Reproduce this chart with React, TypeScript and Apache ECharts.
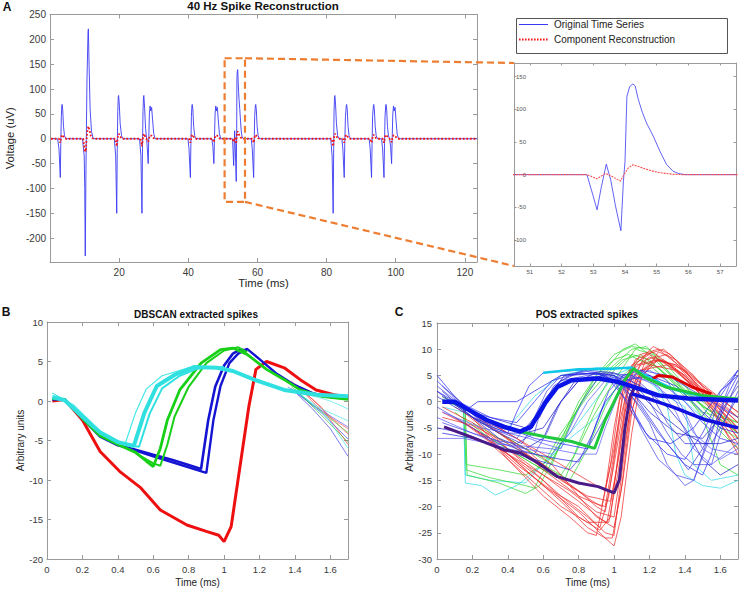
import React, { useEffect, useRef } from "react";
import * as echarts from "echarts";

type P = [number, number];

// ---------- Panel A : 40 Hz spike reconstruction ----------
const aOriginal: P[] = [
  [0.3, 0], [2.2, 0], [2.6, -20], [2.98, -78], [3.12, -10], [3.28, 45], [3.42, 67], [3.52, 69], [3.68, 58], [3.9, 25], [4.2, 6], [4.6, 0],
  [9.4, 0], [9.9, -35], [10.05, -100], [10.2, -236], [10.4, -60], [10.7, 120], [11.0, 215], [11.1, 221], [11.3, 150], [11.6, 60], [12.0, 15], [12.5, 0],
  [18.6, 0], [19.0, -35], [19.3, -150], [19.45, -20], [19.6, 55], [19.75, 85], [19.85, 87], [20.05, 68], [20.3, 30], [20.7, 6], [21.1, 0],
  [25.9, 0], [26.3, -35], [26.6, -150], [26.75, -20], [26.9, 55], [27.05, 85], [27.15, 87], [27.38, 60], [27.65, 20], [27.95, 0], [28.15, -20], [28.4, -50], [28.55, -5], [28.75, 50], [28.95, 66], [29.15, 56], [29.4, 63], [29.65, 40], [30.0, 10], [30.4, 0],
  [39.9, 0], [40.2, -20], [40.6, -78], [40.75, -10], [40.9, 45], [41.05, 67], [41.15, 69], [41.32, 58], [41.55, 25], [41.85, 6], [42.2, 0],
  [46.8, 0], [47.1, -15], [47.4, -50], [47.55, -5], [47.75, 50], [47.95, 66], [48.15, 56], [48.4, 63], [48.65, 40], [49.0, 10], [49.4, 0],
  [52.8, 0], [52.95, -25], [53.12, -54], [53.25, -20], [53.41, 16], [53.55, -8], [53.7, -48], [53.87, -86], [53.95, -10], [54.0, 20], [54.06, 120], [54.15, 135], [54.25, 139], [54.32, 136], [54.42, 115], [54.55, 95], [54.68, 79], [54.89, 59], [55.1, 36], [55.31, 15.5], [55.52, 5], [55.7, 1.5], [55.9, 0],
  [58.2, 0], [58.5, -20], [58.9, -78], [59.05, -10], [59.2, 45], [59.4, 67], [59.5, 69], [59.68, 58], [59.9, 25], [60.2, 6], [60.6, 0],
  [81.2, 0], [81.6, -35], [81.9, -150], [82.05, -20], [82.15, 55], [82.3, 85], [82.4, 87], [82.6, 68], [82.85, 30], [83.2, 6], [83.6, 0],
  [84.4, 0], [84.7, -20], [85.1, -78], [85.25, -10], [85.45, 45], [85.7, 67], [85.8, 69], [85.98, 58], [86.2, 25], [86.5, 6], [86.9, 0],
  [92.3, 0], [92.6, -20], [93.0, -78], [93.15, -10], [93.3, 45], [93.55, 67], [93.65, 69], [93.82, 58], [94.05, 25], [94.35, 6], [94.7, 0],
  [95.9, 0], [96.2, -20], [96.6, -78], [96.75, -10], [96.9, 45], [97.1, 67], [97.2, 69], [97.38, 58], [97.6, 25], [97.9, 6], [98.2, 0],
  [98.5, -15], [98.8, -50], [98.95, -5], [99.15, 50], [99.35, 66], [99.55, 56], [99.8, 63], [100.05, 40], [100.4, 10], [100.8, 0], [123.5, 0],
];

const aReconstruction: P[] = [
  [0.3, 0], [2.6, 0], [2.8, -5], [2.98, -8], [3.15, -1], [3.3, 5], [3.5, 8], [3.8, 5], [4.2, 1], [4.6, 0],
  [9.6, 0], [9.9, -15], [10.05, -25], [10.2, -22], [10.35, -26], [10.55, -5], [10.8, 15], [11.1, 25], [11.4, 18], [11.8, 6], [12.3, 1], [12.8, 0],
  [18.9, 0], [19.1, -8], [19.3, -15], [19.5, -3], [19.65, 5], [19.9, 10], [20.2, 6], [20.6, 1], [21.0, 0],
  [26.2, 0], [26.4, -8], [26.6, -15], [26.8, -3], [26.95, 5], [27.2, 10], [27.5, 5], [27.8, 1], [28.1, -2], [28.4, -6], [28.6, 0], [28.8, 4], [29.0, 7], [29.4, 6], [29.8, 2], [30.3, 0],
  [40.2, 0], [40.4, -4], [40.6, -8], [40.8, -1], [40.95, 5], [41.15, 8], [41.45, 5], [41.85, 1], [42.2, 0],
  [47.1, 0], [47.25, -4], [47.4, -7], [47.6, 0], [47.8, 5], [48.0, 7], [48.4, 6], [48.8, 2], [49.2, 0],
  [52.8, 0], [53.12, -6.5], [53.38, 2], [53.6, -3], [53.85, -10], [53.97, 0], [54.1, 10], [54.25, 15], [54.45, 12], [54.68, 8], [54.9, 5], [55.1, 3], [55.5, 0.5], [55.8, 0],
  [58.5, 0], [58.7, -4], [58.9, -8], [59.1, -1], [59.25, 5], [59.5, 8], [59.8, 5], [60.2, 1], [60.6, 0],
  [81.5, 0], [81.7, -8], [81.9, -15], [82.1, -3], [82.2, 5], [82.45, 10], [82.75, 6], [83.2, 1], [83.6, 0],
  [84.7, 0], [84.9, -4], [85.1, -8], [85.3, -1], [85.45, 5], [85.75, 8], [86.0, 5], [86.4, 1], [86.8, 0],
  [92.6, 0], [92.8, -4], [93.0, -8], [93.2, -1], [93.35, 5], [93.6, 8], [93.9, 5], [94.3, 1], [94.7, 0],
  [96.2, 0], [96.4, -4], [96.6, -8], [96.8, -1], [96.95, 5], [97.2, 8], [97.5, 5], [97.9, 1], [98.2, 0],
  [98.6, -3], [98.8, -7], [99.0, 0], [99.2, 5], [99.4, 7], [99.8, 6], [100.2, 2], [100.6, 0], [123.5, 0],
];

const legendLabels = ["Original Time Series", "Component Reconstruction"];

// zoom window drawn on panel A (time ms, voltage uV)
const zoomBox: P[] = [[50.5, 162], [56.4, 162], [56.4, -127], [50.5, -127], [50.5, 162]];
const insetRange = { xMin: 50.5, xMax: 57.5, yMin: -140, yMax: 171 };

// ---------- Panel B : DBSCAN extracted spikes ----------
const bRed: P[] = [[0.03, 0], [0.1, 0.2], [0.2, -2.4], [0.3, -6.4], [0.41, -8.9], [0.53, -11], [0.64, -13.8], [0.79, -15.7], [0.9, -16.5], [0.97, -17], [1.0, -17.8], [1.04, -15.9], [1.09, -8.3], [1.14, -0.7], [1.18, 4], [1.24, 5.0], [1.34, 4.2], [1.43, 2.7], [1.52, 1.4], [1.62, 0.8], [1.7, 0.5]];
const bBlueA: P[] = [[0.03, 0.2], [0.1, 0.2], [0.2, -2.2], [0.3, -4.5], [0.4, -5.6], [0.49, -6.1], [0.6, -6.8], [0.7, -7.4], [0.8, -8.1], [0.87, -8.6], [0.91, -2.5], [0.95, 1.8], [1.0, 4.5], [1.05, 6.0], [1.09, 6.5], [1.13, 6.4]];
const bBlueB: P[] = [[0.45, -5.9], [0.6, -7.0], [0.7, -7.7], [0.8, -8.4], [0.9, -9.1], [0.94, -2.4], [0.98, 1.9], [1.03, 4.8], [1.08, 6.0], [1.13, 6.6], [1.2, 5.3], [1.3, 3.4], [1.4, 2.0], [1.5, 1.0], [1.6, 0.5], [1.7, 0.3]];
const bGreenA: P[] = [[0.03, 0.3], [0.1, 0.2], [0.2, -2.2], [0.3, -4.4], [0.4, -5.5], [0.5, -6.5], [0.56, -7.6], [0.6, -8.3], [0.64, -6], [0.68, -2.4], [0.75, 1.4], [0.87, 4.8], [0.98, 6.5], [1.05, 6.7], [1.13, 5.9], [1.24, 4.0], [1.34, 2.7], [1.43, 1.4], [1.55, 0.6], [1.7, 0.2]];
const bGreenB: P[] = [[0.5, -6.6], [0.6, -7.9], [0.64, -8.2], [0.68, -5.5], [0.72, -2], [0.8, 1.8], [0.9, 4.8], [1.0, 6.4], [1.08, 6.8], [1.13, 6.2]];
const bCyanA: P[] = [[0.03, 0.5], [0.1, 0.1], [0.2, -2.0], [0.3, -4.0], [0.4, -5.2], [0.49, -5.7], [0.55, -1.5], [0.62, 1.9], [0.72, 3.3], [0.83, 4.3], [0.96, 4.2], [1.05, 3.8], [1.17, 2.7], [1.34, 1.4], [1.52, 0.8], [1.7, 0.6]];
const bCyanB: P[] = [[0.03, 1], [0.15, -0.5], [0.3, -3.8], [0.44, -5.5], [0.5, -1.5], [0.56, 1.5], [0.65, 3.2], [0.8, 4.2], [0.95, 4.3]];
const bCyanC: P[] = [[0.45, -5.6], [0.52, -5.8], [0.58, -1.6], [0.65, 1.6], [0.75, 3.2], [0.85, 4.1], [1.0, 4.3]];
const bTails: { color: string; pts: P[] }[] = [
  { color: "#ff2020", pts: [[1.38, 2.5], [1.5, 0.2], [1.6, -2], [1.7, -4.2]] },
  { color: "#ff2020", pts: [[1.4, 2.2], [1.55, -0.8], [1.7, -5.5]] },
  { color: "#ff4040", pts: [[1.42, 1.8], [1.56, -1.5], [1.7, -3.5]] },
  { color: "#2020e0", pts: [[1.38, 1.6], [1.5, -1], [1.6, -3.5], [1.7, -7]] },
  { color: "#3030f0", pts: [[1.4, 1.3], [1.55, -1.5], [1.7, -4.8]] },
  { color: "#4040ff", pts: [[1.36, 1.8], [1.5, -0.5], [1.7, -3.3]] },
  { color: "#20c020", pts: [[1.4, 1.5], [1.55, -1.8], [1.7, -5.2]] },
  { color: "#30d030", pts: [[1.38, 1.8], [1.52, -0.8], [1.7, -4]] },
  { color: "#30e0e0", pts: [[1.4, 1.2], [1.55, -1], [1.7, -2.5]] },
  { color: "#30e0e0", pts: [[1.42, 1.1], [1.58, -2], [1.7, -6]] },
  { color: "#30e0e0", pts: [[1.45, 1.0], [1.6, 0], [1.7, -1]] },
];

// ---------- Panel C : POS extracted spikes ----------
const cRedThin: P[][] = [
  [[0.03, -1], [0.2, -4], [0.4, -9], [0.6, -14], [0.8, -19], [0.95, -23], [1.0, -24], [1.05, -15], [1.1, -2], [1.16, 6], [1.25, 8], [1.35, 7], [1.5, 2], [1.7, -4]],
  [[0.03, -2], [0.2, -5], [0.4, -10], [0.6, -16], [0.8, -21], [0.95, -26], [1.0, -27.5], [1.04, -22], [1.1, -6], [1.15, 4], [1.25, 9.5], [1.35, 8], [1.5, 3], [1.7, -3]],
  [[0.03, -3], [0.2, -4.5], [0.4, -8], [0.6, -12], [0.8, -17], [0.9, -20], [0.95, -21], [1.0, -12], [1.06, 0], [1.12, 7], [1.22, 10.5], [1.32, 9], [1.45, 4], [1.7, -5]],
  [[0.15, -2], [0.3, -6], [0.5, -12], [0.7, -18], [0.85, -22], [0.92, -24], [0.97, -18], [1.03, -4], [1.1, 6], [1.2, 8.5], [1.3, 7.5], [1.5, 1], [1.7, -6]],
  [[0.1, -1], [0.3, -5], [0.5, -9], [0.7, -15], [0.85, -18], [0.98, -19], [1.03, -10], [1.08, 2], [1.15, 7], [1.28, 8], [1.4, 5], [1.55, 0], [1.7, -7]],
  [[0.2, -3], [0.4, -11], [0.6, -18], [0.75, -22], [0.85, -25], [0.9, -25.5], [0.95, -17], [1.0, -5], [1.05, 4], [1.15, 9], [1.25, 10], [1.4, 6], [1.7, -2]],
  [[0.15, -4], [0.35, -9], [0.55, -13], [0.75, -17], [0.9, -21], [1.0, -22], [1.06, -8], [1.12, 4], [1.2, 7], [1.35, 6], [1.5, 1], [1.7, -8]],
  [[0.25, -6], [0.45, -12], [0.65, -17], [0.8, -20], [0.95, -25], [1.0, -25.5], [1.05, -12], [1.1, 1], [1.18, 8], [1.3, 9], [1.45, 4], [1.7, -4]],
  [[0.2, -2], [0.4, -7], [0.6, -13], [0.8, -18], [0.9, -19.5], [0.95, -20], [1.0, -10], [1.05, 2], [1.12, 8], [1.22, 9.5], [1.35, 6], [1.55, 0], [1.7, -5]],
  [[0.3, -8], [0.5, -14], [0.7, -20], [0.85, -23], [0.97, -23], [1.02, -14], [1.08, -1], [1.15, 6], [1.3, 7], [1.45, 3], [1.7, -9]],
  [[0.15, -1], [0.35, -6], [0.55, -11], [0.75, -16], [0.88, -19], [0.93, -20], [0.98, -12], [1.03, 0], [1.1, 7], [1.2, 9], [1.32, 7], [1.5, 2], [1.7, -3]],
  [[0.2, -5], [0.4, -10], [0.6, -15], [0.8, -22], [0.92, -24.5], [0.98, -22], [1.03, -8], [1.08, 3], [1.18, 9], [1.28, 10], [1.45, 5], [1.7, -6]],
  [[0.1, -3], [0.3, -7], [0.5, -13], [0.7, -19], [0.85, -24], [0.95, -26], [0.99, -26], [1.04, -17], [1.09, -3], [1.16, 5], [1.25, 8], [1.4, 6], [1.7, -7]],
  [[0.3, -4], [0.5, -8], [0.7, -12], [0.85, -15], [0.95, -17], [1.0, -9], [1.05, 1], [1.12, 7], [1.25, 8], [1.4, 5], [1.55, -1], [1.7, -10]],
  [[0.25, -3], [0.45, -7], [0.65, -12], [0.8, -18], [0.9, -22], [0.96, -23], [1.01, -14], [1.06, -2], [1.13, 5], [1.22, 8], [1.35, 7], [1.5, 3], [1.7, -2]],
];
const cGreenThin: P[][] = [
  [[0.03, 1], [0.15, -1], [0.165, -13], [0.3, -14.5], [0.5, -16], [0.55, -16.5], [0.65, -10], [0.75, -4], [0.85, 2], [0.95, 6], [1.05, 10], [1.12, 11], [1.2, 9], [1.35, 4], [1.5, -1], [1.7, -4]],
  [[0.03, 0.5], [0.16, -1.5], [0.17, -14], [0.35, -15.5], [0.5, -17.5], [0.58, -16], [0.7, -8], [0.8, -1], [0.9, 5], [1.0, 9], [1.1, 10.5], [1.2, 10], [1.3, 6], [1.5, 0], [1.7, -5]],
  [[0.1, -2], [0.3, -7], [0.5, -11], [0.65, -14], [0.72, -15], [0.8, -8], [0.9, 0], [1.0, 6], [1.1, 9], [1.2, 8], [1.35, 3], [1.55, -2], [1.7, -6]],
  [[0.2, -4], [0.4, -8], [0.6, -12], [0.75, -15], [0.85, -9], [0.95, -1], [1.05, 5], [1.15, 8], [1.25, 6.5], [1.4, 2], [1.7, -6]],
  [[0.3, -5], [0.5, -9], [0.65, -12], [0.72, -6], [0.8, 0], [0.9, 5], [1.0, 8], [1.08, 9], [1.2, 7], [1.4, 1], [1.7, -9]],
  [[0.25, -6], [0.45, -10], [0.6, -13], [0.7, -14], [0.78, -10], [0.88, -3], [1.0, 4], [1.12, 10], [1.22, 9], [1.35, 4], [1.5, -3], [1.6, -12], [1.7, -14]],
  [[0.2, -3], [0.4, -7], [0.55, -10], [0.65, -11], [0.72, -7], [0.8, -1], [0.9, 4], [1.0, 7], [1.1, 10], [1.18, 10.5], [1.3, 7], [1.45, 1], [1.6, -5], [1.7, -7]],
  [[0.03, 0], [0.16, -1], [0.165, -12], [0.35, -13], [0.5, -14], [0.6, -12], [0.7, -6], [0.85, 1], [0.95, 5], [1.05, 8], [1.15, 9], [1.3, 5], [1.5, -2], [1.7, -4]],
];
const cCyanThin: P[][] = [
  [[0.03, 0], [0.15, -1], [0.16, -15.5], [0.25, -16], [0.33, -17.8], [0.45, -16], [0.6, -12], [0.75, -7], [0.9, -3], [1.0, 2], [1.1, 6], [1.2, 5], [1.3, -1], [1.35, -10], [1.4, -14], [1.5, -16], [1.6, -16.5], [1.7, -15]],
  [[0.03, -1], [0.15, -2], [0.16, -14], [0.3, -15], [0.5, -15.5], [0.65, -10], [0.8, -4], [1.0, 5], [1.1, 6.5], [1.3, 3], [1.5, -3], [1.7, -5]],
  [[0.4, -5], [0.55, 1], [0.7, 5], [0.9, 6.5], [1.05, 6.5], [1.15, 5], [1.3, 1], [1.4, -1], [1.45, -12], [1.55, -15], [1.7, -14]],
];
const cBlueThin: P[][] = [
  [[0.0, 5], [0.1, 1], [0.25, -4], [0.4, -6], [0.45, -2], [0.52, 3], [0.6, 5.5], [0.8, 6], [1.0, 5], [1.1, 2], [1.2, -3], [1.3, -8], [1.4, -12], [1.5, -14], [1.55, -10], [1.62, 0], [1.7, 5]],
  [[0.0, 3], [0.15, -1], [0.3, -5], [0.45, -7], [0.55, -3], [0.62, 2], [0.7, 5], [0.9, 5.5], [1.05, 3], [1.15, -5], [1.25, -11], [1.35, -14], [1.45, -15], [1.52, -8], [1.6, 2], [1.7, 6]],
  [[0.0, 2], [0.2, -3], [0.35, -7], [0.5, -9], [0.6, -7], [0.68, -1], [0.78, 4], [0.95, 5], [1.1, 2], [1.2, -2], [1.35, -6], [1.5, -7], [1.6, -3], [1.7, 4]],
  [[0.0, -3], [0.2, -6], [0.35, -8], [0.5, -9], [0.65, -10], [0.75, -6], [0.85, 0], [0.95, 4], [1.1, 5], [1.25, 3], [1.35, -2], [1.45, -9], [1.55, -12], [1.7, -8]],
  [[0.0, -5], [0.15, -6], [0.3, -8], [0.45, -10], [0.55, -11], [0.65, -12], [0.75, -13], [0.85, -9], [0.95, -3], [1.05, 3], [1.15, 6], [1.3, 5], [1.45, 2], [1.6, -1], [1.7, -3]],
  [[0.15, -2], [0.23, 0], [0.45, 0], [0.55, 2], [0.7, 5], [0.9, 5.5], [1.0, 4], [1.1, -2], [1.2, -7], [1.32, -8], [1.45, -5], [1.6, 2], [1.7, 5]],
  [[0.0, 2], [0.2, -2], [0.4, -5], [0.55, -7], [0.7, -8], [0.85, -9], [0.9, -4], [0.97, 2], [1.05, 5], [1.15, 6], [1.25, 4], [1.4, 0], [1.5, -4], [1.6, -7], [1.7, -8]],
  [[0.03, -4], [0.2, -6], [0.35, -7.5], [0.45, -8], [0.55, -6], [0.6, 0], [0.7, 4], [0.85, 5], [1.0, 4], [1.1, 1], [1.2, -4], [1.3, -12], [1.4, -16], [1.45, -15], [1.55, -6], [1.65, 3], [1.7, 6]],
  [[0.03, 3], [0.2, -2], [0.4, -4], [0.5, -5], [0.58, -3], [0.65, 2], [0.72, 5], [0.85, 6], [1.0, 5.5], [1.15, 3], [1.3, -1], [1.4, -5], [1.5, -11], [1.6, -14], [1.7, -12]],
  [[0.03, -2], [0.25, -5], [0.4, -6], [0.52, -7], [0.6, -8], [0.7, -9], [0.75, -5], [0.82, 0], [0.9, 4], [1.05, 5], [1.2, 4], [1.35, 0], [1.45, -6], [1.55, -9], [1.7, -10]],
  [[0.0, 1], [0.2, -3], [0.35, -6], [0.48, -8], [0.55, -4], [0.62, 1], [0.7, 4], [0.8, 5.5], [1.0, 5], [1.15, -1], [1.25, -6], [1.35, -10], [1.42, -13], [1.5, -9], [1.6, -2], [1.7, 3]],
  [[0.03, -6], [0.2, -7], [0.4, -9], [0.55, -10], [0.7, -11], [0.8, -11.5], [0.88, -6], [0.95, 0], [1.05, 4], [1.2, 5], [1.35, 3], [1.5, -2], [1.6, -5], [1.7, -6]],
  [[0.0, 4], [0.12, 0], [0.3, -3], [0.45, -4], [0.55, 0], [0.65, 4], [0.8, 5.5], [0.95, 5], [1.08, 0], [1.18, -6], [1.3, -10], [1.4, -11], [1.5, -6], [1.6, 1], [1.7, 6]],
  [[0.0, -1], [0.15, -4], [0.3, -7], [0.45, -9], [0.55, -10], [0.62, -6], [0.7, 0], [0.8, 4], [0.95, 5], [1.1, 4], [1.2, 0], [1.3, -6], [1.38, -10], [1.45, -12], [1.55, -12], [1.62, -4], [1.7, 2]],
  [[0.03, 2], [0.2, -3], [0.35, -5], [0.5, -6], [0.6, -5], [0.7, 0], [0.8, 4], [0.9, 5.5], [1.0, 5], [1.1, 3], [1.25, -2], [1.4, -6], [1.5, -8], [1.6, -8], [1.7, -7]],
  [[0.0, -7], [0.15, -7], [0.3, -8], [0.5, -8.5], [0.65, -9], [0.8, -10], [0.9, -10], [0.95, -5], [1.02, 1], [1.1, 5], [1.2, 6], [1.3, 4], [1.4, -2], [1.5, -9], [1.6, -11], [1.7, -9]],
  [[0.03, 1], [0.25, -4], [0.4, -6], [0.5, -6], [0.58, -2], [0.66, 3], [0.75, 5], [0.95, 5.5], [1.1, 5], [1.2, 2], [1.3, -4], [1.4, -8], [1.55, -8], [1.65, -2], [1.7, 1]],
];
const cBlueMain: P[] = [[0.03, 0], [0.1, 0], [0.15, -1], [0.28, -3.5], [0.38, -4.8], [0.47, -5.7], [0.53, -4.8], [0.61, -0.3], [0.68, 2.8], [0.76, 4.1], [0.91, 4.4], [1.02, 3.8], [1.14, 2.5], [1.25, 1.2], [1.42, 0.6], [1.7, 0.2]];
const cBlueTail: P[] = [[1.1, 1.5], [1.2, 0.5], [1.33, -1], [1.52, -3.5], [1.7, -5]];
const cGreenMain: P[] = [[0.47, -5.7], [0.61, -6.7], [0.76, -7.6], [0.89, -8.9], [0.95, -3.5], [1.06, 4.1], [1.11, 6.3], [1.17, 4.7], [1.29, 2.8], [1.5, 1.2], [1.7, 0.5]];
const cCyanMain: P[] = [[0.6, 5.5], [0.8, 6.2], [1.0, 6.3], [1.1, 6.5], [1.2, 4.5], [1.35, 2.2], [1.5, 1], [1.7, 0.3]];
const cPurpleMain: P[] = [[0.04, -4.8], [0.19, -6.7], [0.38, -9.2], [0.47, -9.8], [0.57, -11.7], [0.68, -14.3], [0.8, -15.5], [0.91, -16.2], [1.0, -17.4], [1.03, -14.9], [1.06, -5.4], [1.09, 0.9], [1.12, 3]];
const cRedMain: P[] = [[1.2, 4], [1.25, 5], [1.33, 4.7], [1.44, 2.8], [1.55, 1.5]];

const FONT = '"Liberation Sans", Arial, sans-serif';
const AXIS_COLOR = "#9a9a9a";
const LABEL_COLOR = "#3a3a3a";
const BLUE_A = "#3a3af5";
const RED_A = "#f01818";

function lineSeries(data: P[], gi: number, color: string, width: number, extra: any = {}) {
  return {
    type: "line",
    data,
    xAxisIndex: gi * 2,
    yAxisIndex: gi * 2,
    symbol: "none",
    silent: true,
    lineStyle: { color, width, ...(extra.lineStyle || {}) },
    ...extra.rest,
  };
}

function axesFor(gi: number, x: any, y: any, labelSize: number, names: any) {
  const common = {
    gridIndex: gi,
    splitLine: { show: false },
    axisLine: { show: true, onZero: false, lineStyle: { color: AXIS_COLOR, width: 1 } },
    axisTick: { show: true, inside: true, length: gi === 1 ? 2.5 : 4, lineStyle: { color: AXIS_COLOR } },
  };
  const xBottom = {
    ...common, type: "value", position: "bottom", ...x,
    name: names.x, nameLocation: "middle", nameGap: names.xGap,
    nameTextStyle: { fontFamily: FONT, fontSize: names.size, color: "#262626" },
    axisLabel: { show: true, fontFamily: FONT, fontSize: labelSize, color: LABEL_COLOR, margin: names.xMargin, showMaxLabel: false, showMinLabel: names.showMinX },
  };
  const xTop = { ...common, type: "value", position: "top", ...x, axisLabel: { show: false } };
  const yLeft = {
    ...common, type: "value", position: "left", ...y,
    name: names.y, nameLocation: "middle", nameGap: names.yGap,
    nameTextStyle: { fontFamily: FONT, fontSize: names.size, color: "#262626" },
    axisLabel: { show: true, fontFamily: FONT, fontSize: labelSize, color: LABEL_COLOR, margin: names.yMargin, showMaxLabel: names.showMaxY, showMinLabel: names.showMinY, ...(names.yLabelExtra || {}) },
  };
  const yRight = { ...common, type: "value", position: "right", ...y, axisLabel: { show: false } };
  return { x: [xBottom, xTop], y: [yLeft, yRight] };
}

export default function App() {
  const ref = useRef<HTMLDivElement>(null);
  useEffect(() => {
    if (!ref.current) return;
    const chart = echarts.init(ref.current, undefined, { renderer: "svg" });

    const aAx = axesFor(0, { min: 0, max: 123.5, interval: 20 }, { min: -248, max: 250, minInterval: 50, maxInterval: 50 }, 10,
      { x: "Time (ms)", y: "Voltage (uV)", xGap: 13, yGap: 23, size: 11.3, xMargin: 5, yMargin: 4, showMinX: false, showMinY: false, showMaxY: true });
    const iAx = axesFor(1, { min: insetRange.xMin, max: insetRange.xMax, minInterval: 1, maxInterval: 1 }, { min: insetRange.yMin, max: insetRange.yMax, minInterval: 50, maxInterval: 50 }, 6,
      { x: "", y: "", xGap: 10, yGap: 10, size: 6, xMargin: 3, yMargin: 12, showMinX: false, showMinY: false, showMaxY: false, yLabelExtra: { inside: true, align: "right", color: "#555" } });
    const bAx = axesFor(2, { min: 0, max: 1.7, interval: 0.2 }, { min: -20, max: 10, interval: 5 }, 9.5,
      { x: "Time (ms)", y: "Arbitrary units", xGap: 18.5, yGap: 14, size: 10, xMargin: 5, yMargin: 4, showMinX: true, showMinY: true, showMaxY: true });
    const cAx = axesFor(3, { min: 0, max: 1.7, interval: 0.2 }, { min: -30, max: 15, interval: 5 }, 9.5,
      { x: "Time (ms)", y: "Arbitrary units", xGap: 18.5, yGap: 16, size: 10, xMargin: 5, yMargin: 5, showMinX: true, showMinY: true, showMaxY: true });
    iAx.x[0].axisLabel.color = "#555";

    const series: any[] = [];
    // Panel A
    series.push(lineSeries(aOriginal, 0, BLUE_A, 0.9, { rest: { name: legendLabels[0], z: 3 } }));
    series.push(lineSeries(aReconstruction, 0, RED_A, 1.8, { lineStyle: { type: "dotted" }, rest: { name: legendLabels[1], z: 4 } }));
    series.push(lineSeries(zoomBox, 0, "#ed7d31", 2.2, { lineStyle: { type: [7, 4] }, rest: { z: 5 } }));
    // Inset
    series.push(lineSeries(aOriginal, 1, BLUE_A, 0.8, { rest: { name: legendLabels[0], z: 3 } }));
    series.push(lineSeries(aReconstruction, 1, "#ff5050", 1.1, { lineStyle: { type: [2, 1] }, rest: { name: legendLabels[1], z: 4 } }));
    // Panel B
    bTails.forEach((t) => series.push(lineSeries(t.pts, 2, t.color, 0.7, { lineStyle: { opacity: 0.85 } })));
    series.push(lineSeries(bRed, 2, "#ee1010", 3));
    series.push(lineSeries(bBlueB, 2, "#1414d2", 2.4));
    series.push(lineSeries(bBlueA, 2, "#1414d2", 2.6));
    series.push(lineSeries(bGreenB, 2, "#18d018", 2));
    series.push(lineSeries(bGreenA, 2, "#18d018", 2.8));
    series.push(lineSeries(bCyanB, 2, "#48e8e8", 1.2));
    series.push(lineSeries(bCyanC, 2, "#30e0e0", 2));
    series.push(lineSeries(bCyanA, 2, "#30e0e0", 4));
    // Panel C
    const blueShades = ["#2b2bff", "#4646e6", "#1e1ec8", "#5a5aff", "#3535d8", "#2020e0"];
    cCyanThin.forEach((p) => series.push(lineSeries(p, 3, "#30d8e8", 0.8, { lineStyle: { opacity: 0.9 } })));
    cGreenThin.forEach((p) => series.push(lineSeries(p, 3, "#30d830", 0.8, { lineStyle: { opacity: 0.9 } })));
    cRedThin.forEach((p) => series.push(lineSeries(p, 3, "#f02828", 0.8, { lineStyle: { opacity: 0.9 } })));
    cBlueThin.forEach((p, i) => series.push(lineSeries(p, 3, blueShades[i % blueShades.length], 0.8, { lineStyle: { opacity: 0.9 } })));
    series.push(lineSeries(cPurpleMain, 3, "#4a1a88", 3));
    series.push(lineSeries(cRedMain, 3, "#dd0000", 3));
    series.push(lineSeries(cCyanMain, 3, "#10c8e8", 2.5));
    series.push(lineSeries(cGreenMain, 3, "#20c840", 3));
    series.push(lineSeries(cBlueTail, 3, "#1010e0", 3.5));
    series.push(lineSeries(cBlueMain, 3, "#0a14e6", 4.5));

    const option: any = {
      animation: false,
      backgroundColor: "#ffffff",
      textStyle: { fontFamily: FONT },
      grid: [
        { left: 50, top: 14.5, width: 427, height: 247.5, outerBoundsMode: "none", containLabel: false },
        { left: 514, top: 63, width: 222, height: 203, outerBoundsMode: "none", containLabel: false },
        { left: 47, top: 322, width: 301, height: 237, outerBoundsMode: "none", containLabel: false },
        { left: 437, top: 323, width: 301, height: 236, outerBoundsMode: "none", containLabel: false },
      ],
      xAxis: [...aAx.x, ...iAx.x, ...bAx.x, ...cAx.x],
      yAxis: [...aAx.y, ...iAx.y, ...bAx.y, ...cAx.y],
      series,
    };
    chart.setOption(option);

    const txt = (text: string, x: number, y: number, size: number) => ({
      type: "text",
      x,
      y,
      z: 100,
      style: { text, font: `bold ${size}px ${FONT}`, fill: "#111", align: "center", verticalAlign: "middle", textAlign: "center", textVerticalAlign: "middle" },
    });
    const pTop = chart.convertToPixel({ xAxisIndex: 0, yAxisIndex: 0 }, [zoomBox[1][0], zoomBox[1][1]]) as number[];
    const pBot = chart.convertToPixel({ xAxisIndex: 0, yAxisIndex: 0 }, [zoomBox[2][0], zoomBox[2][1]]) as number[];
    const iTop = chart.convertToPixel({ xAxisIndex: 2, yAxisIndex: 2 }, [insetRange.xMin, insetRange.yMax]) as number[];
    const iBot = chart.convertToPixel({ xAxisIndex: 2, yAxisIndex: 2 }, [insetRange.xMin, insetRange.yMin]) as number[];
    const conn = (a: number[], b: number[]) => ({
      type: "line",
      z: 50,
      silent: true,
      shape: { x1: a[0], y1: a[1], x2: b[0], y2: b[1] },
      style: { stroke: "#ed7d31", lineWidth: 2.2, lineDash: [7, 4] },
    });
    const legendText = (text: string, y: number) => ({
      type: "text",
      x: 554,
      y,
      z: 101,
      style: { text, font: `10px ${FONT}`, fill: "#222", align: "left", verticalAlign: "middle", textAlign: "left", textVerticalAlign: "middle" },
    });
    chart.setOption({
      graphic: [
        txt("40 Hz Spike Reconstruction", 263, 6, 11.5),
        txt("DBSCAN extracted spikes", 196, 314, 10),
        txt("POS extracted spikes", 587, 314, 10),
        txt("A", 7, 7, 12),
        txt("B", 6, 312, 12),
        txt("C", 399, 312, 12),
        conn(pTop, iTop),
        conn(pBot, iBot),
        { type: "rect", z: 100, silent: true, shape: { x: 516.5, y: 18.5, width: 211, height: 35 }, style: { fill: "#fff", stroke: "#555", lineWidth: 1 } },
        { type: "line", z: 101, silent: true, shape: { x1: 519, y1: 24.5, x2: 548, y2: 24.5 }, style: { stroke: BLUE_A, lineWidth: 1 } },
        { type: "line", z: 101, silent: true, shape: { x1: 519, y1: 39.5, x2: 548, y2: 39.5 }, style: { stroke: RED_A, lineWidth: 2, lineDash: [1.6, 1.4] } },
        legendText(legendLabels[0], 24.5),
        legendText(legendLabels[1], 39),
      ],
    });

    return () => chart.dispose();
  }, []);
  return <div ref={ref} style={{ position: "absolute", left: 0, top: 0, width: 740, height: 589 }} />;
}
